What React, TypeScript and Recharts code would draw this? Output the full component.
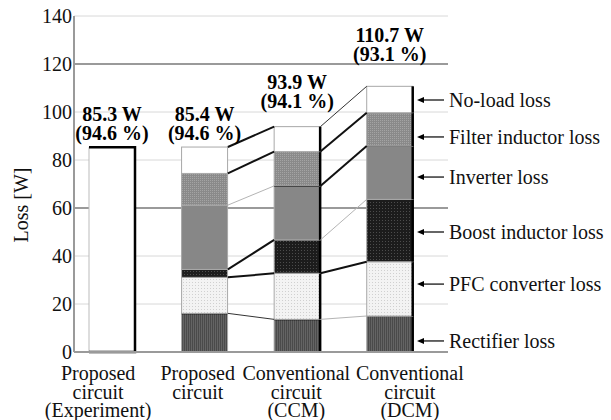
import React from "react";
import {
  Bar,
  BarChart,
  CartesianGrid,
  LabelList,
  ReferenceLine,
  XAxis,
  YAxis
} from "recharts";

const SERIF = "'Liberation Serif', 'Times New Roman', serif";

// categories along the x axis and their multi-line tick text
const categories = ["exp", "prop", "ccm", "dcm"];
const categoryLines = [
  ["Proposed", "circuit", "(Experiment)"],
  ["Proposed", "circuit"],
  ["Conventional", "circuit", "(CCM)"],
  ["Conventional", "circuit", "(DCM)"]
];

// losses [W], bottom of the stack first
const measured = [85.3, null, null, null];
const rectifier = [null, 16.1, 13.6, 15.0];
const pfc = [null, 15.0, 19.2, 22.6];
const boost = [null, 3.3, 13.9, 26.0];
const inverter = [null, 26.8, 22.5, 22.2];
const filter = [null, 13.2, 14.3, 13.9];
const noLoad = [null, 11.0, 10.4, 11.0];

const totals = ["85.3", "85.4", "93.9", "110.7"];
const efficiency = ["94.6", "94.6", "94.1", "93.1"];

const yTicks = [0, 20, 40, 60, 80, 100, 120, 140];

const lossNames = [
  "Rectifier loss",
  "PFC converter loss",
  "Boost inductor loss",
  "Inverter loss",
  "Filter inductor loss",
  "No-load loss"
];
// where each name sits on the y axis
const lossNameAt = [4.6, 28.3, 50, 72.9, 89.6, 105];

const stackKeys = ["rectifier", "pfc", "boost", "inverter", "filter", "noLoad"];
const stackValues = [rectifier, pfc, boost, inverter, filter, noLoad];

// ---- styling ----
const fills: Record<string, string> = {
  rectifier: "url(#pRect)",
  pfc: "url(#pPfc)",
  boost: "url(#pBoost)",
  inverter: "#878787",
  filter: "url(#pFilter)",
  noLoad: "#ffffff"
};
const edged = ["ccm", "dcm"];
const ruledTops: Record<string, number> = {
  "prop:rectifier": 2,
  "ccm:rectifier": 2,
  "ccm:inverter": 2,
  "dcm:inverter": 1
};
const tickShift = [-14, -7, -1, 20];
const labelLift = [0, 0, 12, 18];
const linkStyle: Record<number, string[]> = {
  1: ["thin", "bold", "bold", "light", "bold", "bold"],
  2: ["light", "bold", "light", "bold", "bold", "thin"]
};
const strokes: Record<string, { c: string; w: number }> = {
  bold: { c: "#111", w: 2 },
  thin: { c: "#333", w: 1 },
  light: { c: "#b4b4b4", w: 1 }
};

// table for the band axis: a spacer band after every bar
const gapKey = (i: number) => `gap${i}`;
const rows: any[] = [];
categories.forEach((key, i) => {
  const row: any = { key, measured: measured[i] };
  stackKeys.forEach((s, k) => (row[s] = stackValues[k][i]));
  rows.push(row);
  if (i < categories.length - 1) rows.push({ key: gapKey(i) });
});

// running sums: top of every segment, per category
const tops = categories.map((_, i) => {
  let sum = 0;
  return stackValues.map((v) => (sum += v[i] ?? 0));
});

const ExperimentShape = (p: any) => {
  const { x, y, width: w, height: h } = p;
  if (!h) return <g />;
  return (
    <g>
      <rect x={x} y={y} width={w} height={h} fill="#fff" />
      <line x1={x} y1={y} x2={x} y2={y + h} stroke="#bbb" />
      <polyline
        points={`${x},${y} ${x + w},${y} ${x + w},${y + h} ${x},${y + h}`}
        fill="none"
        stroke="#000"
        strokeWidth={2.5}
      />
    </g>
  );
};

const segmentShape = (series: string) => (p: any) => {
  const { x, y, width: w, height: h } = p;
  const row = p.payload ?? rows[p.index];
  if (!h || !row || row[series] == null) return <g />;
  const rule = ruledTops[`${row.key}:${series}`];
  return (
    <g>
      <rect x={x} y={y} width={w} height={h} fill={fills[series]} stroke="#a8a8a8" strokeWidth={1} />
      {rule && <line x1={x} x2={x + w} y1={y} y2={y} stroke="#000" strokeWidth={rule} />}
      {edged.includes(row.key) && (
        <line x1={x + w} x2={x + w} y1={y} y2={y + h} stroke="#000" strokeWidth={2.5} />
      )}
    </g>
  );
};

const totalLabel = (series: string) => (p: any) => {
  const i = categories.indexOf(p.value);
  if (i < 0 || rows.find((r) => r.key === p.value)[series] == null) return null;
  const vb = p.viewBox ?? p;
  const cx = vb.x + vb.width / 2;
  const top = vb.y - labelLift[i];
  return (
    <text textAnchor="middle" fontWeight="bold" fontSize={20} fill="#000" fontFamily={SERIF}>
      <tspan x={cx} y={top - 26}>{totals[i]} W</tspan>
      <tspan x={cx} y={top - 7}>({efficiency[i]} %)</tspan>
    </text>
  );
};

const CategoryTick = (p: any) => {
  const i = categories.indexOf(p.payload?.value);
  if (i < 0) return <g />;
  const x = p.x + tickShift[i];
  return (
    <text textAnchor="middle" fontSize={20} fill="#111" fontFamily={SERIF}>
      {categoryLines[i].map((t, j) => (
        <tspan key={j} x={x} y={p.y + 28 + j * 18.5}>
          {t}
        </tspan>
      ))}
    </text>
  );
};

const pointer = (text: string) => (p: any) => {
  const right = Math.max(p.x1, p.x2);
  const y = p.y1;
  const tip = right - 31;
  return (
    <g>
      <line x1={tip + 5} x2={right - 4} y1={y} y2={y} stroke="#000" strokeWidth={1.2} />
      <polygon points={`${tip},${y} ${tip + 7},${y - 3} ${tip + 7},${y + 3}`} fill="#000" />
      <text x={right + 1} y={y} dy="0.35em" fontSize={20} fill="#111" fontFamily={SERIF}>
        {text}
      </text>
    </g>
  );
};

const YTitle = (p: any) => {
  const vb = p.viewBox;
  const x = vb.x + 7;
  const y = vb.y + vb.height / 2 + 21;
  return (
    <text
      x={x}
      y={y}
      transform={`rotate(-90 ${x} ${y})`}
      textAnchor="middle"
      dy="0.35em"
      fontSize={20}
      fill="#111"
      fontFamily={SERIF}
    >
      Loss [W]
    </text>
  );
};

const App = () => {
  return (
    <div style={{ position: "absolute", left: 0, top: 0, background: "#fff", fontFamily: SERIF }}>
      <BarChart
        width={611}
        height={420}
        data={rows}
        barCategoryGap={0}
        margin={{ top: 16, right: 163, bottom: 8, left: 14 }}
      >
        <defs>
          <pattern id="pRect" width="2" height="2" patternUnits="userSpaceOnUse">
            <rect width="2" height="2" fill="#646464" />
            <rect width="1" height="2" fill="#4a4a4a" />
          </pattern>
          <pattern id="pPfc" width="3" height="3" patternUnits="userSpaceOnUse">
            <rect width="3" height="3" fill="#f3f3f3" />
            <rect width="1" height="1" fill="#d0d0d0" />
          </pattern>
          <pattern id="pBoost" width="3" height="3" patternUnits="userSpaceOnUse">
            <rect width="3" height="3" fill="#1c1c1c" />
            <rect x="1" y="1" width="1" height="1" fill="#4c4c4c" />
          </pattern>
          <pattern id="pFilter" width="2" height="2" patternUnits="userSpaceOnUse">
            <rect width="2" height="2" fill="#8a8a8a" />
            <rect width="1" height="1" fill="#a4a4a4" />
          </pattern>
        </defs>
        <CartesianGrid vertical={false} horizontalValues={[20, 40, 80, 100, 140]} stroke="#d8d8d8" />
        <CartesianGrid vertical={false} horizontalValues={[60, 120]} stroke="#9a9a9a" strokeWidth={2} />
        <XAxis
          dataKey="key"
          type="category"
          interval={0}
          height={60}
          padding={{ left: 15, right: 35 }}
          tickSize={0}
          tickMargin={0}
          tickLine={false}
          axisLine={{ stroke: "#9a9a9a", strokeWidth: 2 }}
          tick={<CategoryTick />}
        />
        <YAxis
          width={60}
          domain={[0, 140]}
          ticks={yTicks}
          tickSize={0}
          tickMargin={2}
          tickLine={false}
          axisLine={{ stroke: "#9a9a9a", strokeWidth: 2 }}
          tick={{ fontSize: 20, fill: "#111", fontFamily: SERIF }}
          label={{ content: <YTitle /> }}
        />
        <Bar dataKey="measured" stackId="s" isAnimationActive={false} shape={ExperimentShape}>
          <LabelList dataKey="key" content={totalLabel("measured")} />
        </Bar>
        {stackKeys.map((s) => (
          <Bar key={s} dataKey={s} stackId="s" isAnimationActive={false} shape={segmentShape(s)}>
            {s === "noLoad" && <LabelList dataKey="key" content={totalLabel("noLoad")} />}
          </Bar>
        ))}
        {[1, 2].map((i) =>
          tops[i].map((v, k) => (
            <ReferenceLine
              key={`link-${i}-${k}`}
              position="start"
              segment={[
                { x: gapKey(i), y: v },
                { x: categories[i + 1], y: tops[i + 1][k] }
              ]}
              stroke={strokes[linkStyle[i][k]].c}
              strokeWidth={strokes[linkStyle[i][k]].w}
            />
          ))
        )}
        {lossNames.map((name, k) => (
          <ReferenceLine key={name} y={lossNameAt[k]} shape={pointer(name)} />
        ))}
      </BarChart>
    </div>
  );
};

export default App;
